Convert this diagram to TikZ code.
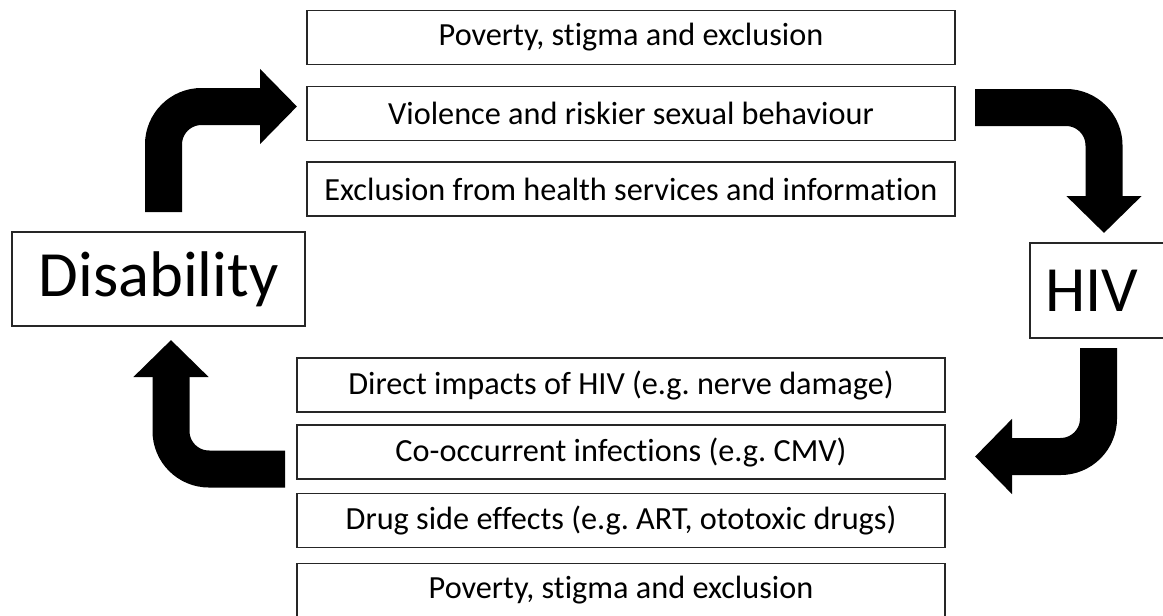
\documentclass[tikz,border=0pt]{standalone}
\usepackage{fontspec}
\setmainfont{Carlito}[Ligatures=CommonOff]
\frenchspacing
\usetikzlibrary{arrows.meta}
\tikzset{
  cause/.style={draw=black!85, line width=1.3pt, minimum width=486pt,
    minimum height=40.5pt, inner sep=0pt, font=\fontsize{24.2}{28}\selectfont},
  state/.style={draw=black!85, line width=1.3pt, inner sep=0pt,
    font=\fontsize{48.4}{56}\selectfont},
  turnarrow/.style={line width=27.75pt, rounded corners=28.5pt,
    -{Triangle[width=54.75pt,length=27.75pt]}}
}
\begin{document}
\begin{tikzpicture}[x=0.75pt,y=-0.75pt]
      \useasboundingbox (0,0) rectangle (1163,615);
      \node[state, minimum width=219.75pt, minimum height=70.5pt] (dis) at (158.5,279) {Disability\hspace{15pt}};
      \node[state, minimum width=102pt, minimum height=71.25pt] (hiv) at (1098,290.5) {\hspace{-9pt}HIV};
      % routes from disability to HIV
      \draw
        (631,37.5) node[cause] (t1){Poverty, stigma and exclusion}
        (631,113.5) node[cause] (t2){Violence and riskier sexual behaviour}
        (631,189) node[cause] (t3){Exclusion from health services and information};
      % routes from HIV to disability
      \draw
        (621,385) node[cause] (b1){Direct impacts of HIV (e.g. nerve damage)}
        (621,452) node[cause] (b2){Co-occurrent infections (e.g. CMV)}
        (621,520.5) node[cause] (b3){Drug side effects (e.g. ART, ototoxic drugs)}
        (621,590.5) node[cause] (b4){Poverty, stigma and exclusion};
      \coordinate (a1s) at (163.5,212);
      \coordinate (a1c) at (163.5,106.5);
      \coordinate (a1e) at (297,106.5);
      \coordinate (a2s) at (975,107.5);
      \coordinate (a2c) at (1104,107.5);
      \coordinate (a2e) at (1104,233);
      \coordinate (a3s) at (1098.5,348);
      \coordinate (a3c) at (1098.5,456.5);
      \coordinate (a3e) at (975,456.5);
      \coordinate (a4s) at (285,469);
      \coordinate (a4c) at (171,469);
      \coordinate (a4e) at (171,340);
      \begin{scope}[turnarrow]
        \draw (a1s) -- (a1c) -- (a1e);
        \draw (a2s) -- (a2c) -- (a2e);
        \draw (a3s) -- (a3c) -- (a3e);
        \draw (a4s) -- (a4c) -- (a4e);
      \end{scope}
    \end{tikzpicture}
\end{document}
